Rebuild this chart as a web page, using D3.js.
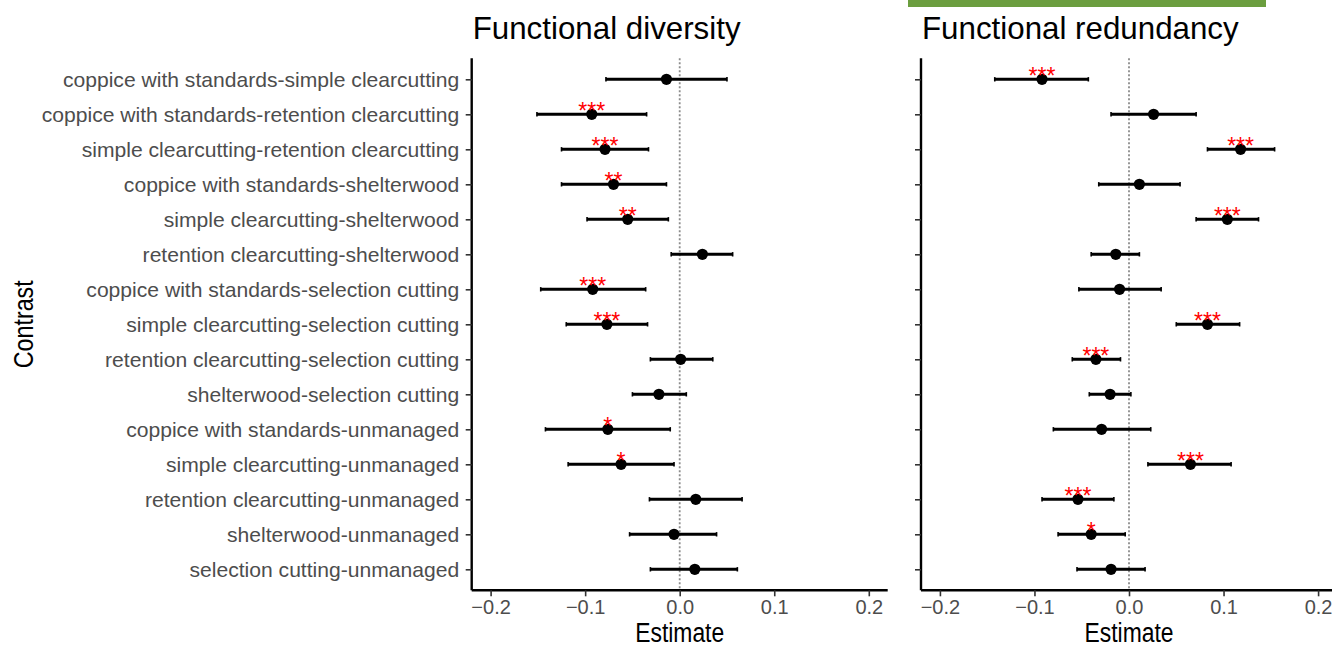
<!DOCTYPE html>
<html>
<head>
<meta charset="utf-8">
<script src="https://cdn.jsdelivr.net/npm/d3@7"></script>
<style>
  html, body { margin: 0; padding: 0; background: #fff; }
  svg { display: block; font-family: "Liberation Sans", Arial, Helvetica, sans-serif; }
</style>
</head>
<body>
<div id="chart"></div>
<script>
var contrasts = [
  "coppice with standards-simple clearcutting",
  "coppice with standards-retention clearcutting",
  "simple clearcutting-retention clearcutting",
  "coppice with standards-shelterwood",
  "simple clearcutting-shelterwood",
  "retention clearcutting-shelterwood",
  "coppice with standards-selection cutting",
  "simple clearcutting-selection cutting",
  "retention clearcutting-selection cutting",
  "shelterwood-selection cutting",
  "coppice with standards-unmanaged",
  "simple clearcutting-unmanaged",
  "retention clearcutting-unmanaged",
  "shelterwood-unmanaged",
  "selection cutting-unmanaged"
];
var panelTitles = ["Functional diversity", "Functional redundancy"];
var xTicks = [-0.2, -0.1, 0.0, 0.1, 0.2];

// functional diversity
var fdEst = [-0.014, -0.093, -0.079, -0.070, -0.055, 0.024, -0.092, -0.077, 0.001, -0.022, -0.076, -0.062, 0.017, -0.006, 0.016];
var fdLo  = [-0.078, -0.151, -0.125, -0.125, -0.098, -0.009, -0.147, -0.120, -0.031, -0.050, -0.142, -0.118, -0.032, -0.053, -0.031];
var fdHi  = [0.050, -0.035, -0.033, -0.014, -0.012, 0.056, -0.036, -0.034, 0.035, 0.007, -0.010, -0.006, 0.066, 0.039, 0.061];
var fdSig = ["", "***", "***", "**", "**", "", "***", "***", "", "", "*", "*", "", "", ""];

// functional redundancy
var frEst = [-0.092, 0.026, 0.118, 0.011, 0.104, -0.014, -0.010, 0.083, -0.035, -0.020, -0.029, 0.065, -0.054, -0.040, -0.019];
var frLo  = [-0.142, -0.019, 0.083, -0.032, 0.071, -0.040, -0.053, 0.050, -0.060, -0.042, -0.080, 0.020, -0.092, -0.075, -0.055];
var frHi  = [-0.043, 0.071, 0.154, 0.054, 0.137, 0.011, 0.034, 0.117, -0.009, 0.002, 0.023, 0.108, -0.016, -0.004, 0.017];
var frSig = ["***", "", "***", "", "***", "", "", "***", "***", "", "", "***", "***", "*", ""];

var width = 1332, height = 648;
var plotTop = 58.3, plotBottom = 590.3;
var panels = [
  { left: 471.7, right: 887.7, est: fdEst, lo: fdLo, hi: fdHi, sig: fdSig, labels: true },
  { left: 921, right: 1337, est: frEst, lo: frLo, hi: frHi, sig: frSig, labels: false }
];

var svg = d3.select("#chart").append("svg")
  .attr("width", width)
  .attr("height", height);

// green bar at the top
svg.append("rect")
  .attr("x", 908).attr("y", 0)
  .attr("width", 358).attr("height", 7)
  .attr("fill", "#6b9e3f");

var y = d3.scalePoint()
  .domain(contrasts)
  .range([plotTop, plotBottom])
  .padding(0.6);

panels.forEach(function (p, n) {
  var x = d3.scaleLinear().domain([-0.22, 0.22]).range([p.left, p.right]);
  var rows = contrasts.map(function (c, i) {
    return { c: c, est: p.est[i], lo: p.lo[i], hi: p.hi[i], sig: p.sig[i] };
  });
  var g = svg.append("g");

  // zero line
  g.append("line")
    .attr("x1", x(0)).attr("x2", x(0))
    .attr("y1", plotTop).attr("y2", plotBottom)
    .attr("stroke", "#8c8c8c")
    .attr("stroke-width", 1.8)
    .attr("stroke-dasharray", "2,2");

  // error bars
  g.selectAll(".bar").data(rows).enter().append("line")
    .attr("x1", function (d) { return x(d.lo); })
    .attr("x2", function (d) { return x(d.hi); })
    .attr("y1", function (d) { return y(d.c); })
    .attr("y2", function (d) { return y(d.c); })
    .attr("stroke", "#000")
    .attr("stroke-width", 2.9);
  ["lo", "hi"].forEach(function (k) {
    g.selectAll(".cap" + k).data(rows).enter().append("line")
      .attr("x1", function (d) { return x(d[k]); })
      .attr("x2", function (d) { return x(d[k]); })
      .attr("y1", function (d) { return y(d.c) - 2.2; })
      .attr("y2", function (d) { return y(d.c) + 2.2; })
      .attr("stroke", "#000")
      .attr("stroke-width", 1.6);
  });

  // points
  g.selectAll(".pt").data(rows).enter().append("circle")
    .attr("cx", function (d) { return x(d.est); })
    .attr("cy", function (d) { return y(d.c); })
    .attr("r", 5.6)
    .attr("fill", "#000");

  // significance stars
  g.selectAll(".sig").data(rows).enter().append("text")
    .attr("x", function (d) { return x(d.est); })
    .attr("y", function (d) { return y(d.c) + 5; })
    .attr("text-anchor", "middle")
    .attr("fill", "#ff0000")
    .style("font-size", "23px")
    .text(function (d) { return d.sig; });

  // axes
  var xAxis = g.append("g")
    .attr("transform", "translate(0," + plotBottom + ")")
    .call(d3.axisBottom(x).tickValues(xTicks).tickFormat(d3.format(".1f")).tickSize(6).tickSizeOuter(0).tickPadding(4));
  var yAxis = g.append("g")
    .attr("transform", "translate(" + p.left + ",0)")
    .call(d3.axisLeft(y).tickSize(6).tickSizeOuter(0).tickPadding(6.5)
      .tickFormat(p.labels ? null : function () { return ""; }));

  [xAxis, yAxis].forEach(function (a) {
    a.select(".domain").attr("stroke", "#000").attr("stroke-width", 2.4);
    a.selectAll(".tick line").attr("stroke", "#333").attr("stroke-width", 1.6);
    a.selectAll(".tick text")
      .attr("fill", "#4d4d4d")
      .style("font-size", "20px")
      .style("font-family", "'Liberation Sans', Arial, Helvetica, sans-serif");
  });
  yAxis.select(".domain").attr("d", "M0," + plotTop + "V" + plotBottom);
  xAxis.select(".domain").attr("d", "M" + p.left + ",0H" + p.right);
  yAxis.selectAll(".tick text").style("font-size", "21.1px");

  // panel title
  svg.append("text")
    .attr("x", p.left + 1)
    .attr("y", 39)
    .attr("fill", "#000")
    .style("font-size", "31.3px")
    .text(panelTitles[n]);

  // x axis title
  svg.append("text")
    .attr("x", x(0))
    .attr("y", 642)
    .attr("text-anchor", "middle")
    .attr("textLength", 89)
    .attr("lengthAdjust", "spacingAndGlyphs")
    .attr("fill", "#000")
    .style("font-size", "27px")
    .text("Estimate");
});

// y axis title
svg.append("text")
  .attr("transform", "translate(33," + ((plotTop + plotBottom) / 2) + ") rotate(-90)")
  .attr("text-anchor", "middle")
  .attr("textLength", 88)
  .attr("lengthAdjust", "spacingAndGlyphs")
  .attr("fill", "#000")
  .style("font-size", "28px")
  .text("Contrast");
</script>
</body>
</html>
